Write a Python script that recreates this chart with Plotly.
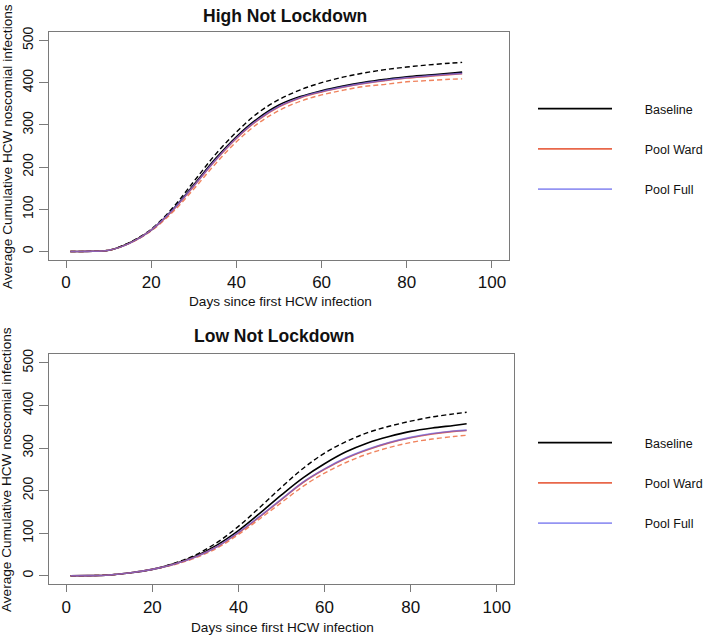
import plotly.graph_objects as go

days = [1, 5, 10, 15, 20, 25, 30, 35, 40, 45, 50, 55, 60, 65, 70, 75, 80, 85, 90, 93]

# High Not Lockdown
high_baseline = [0, 0.5, 3, 21, 51, 99, 158, 219, 272, 315, 347, 367, 381, 392, 401, 408, 414, 418, 422, 425]
high_baseline_dash = [0, 0.5, 3, 22, 53, 103, 166, 229, 283, 328, 360, 383, 400, 413, 423, 431, 437, 442, 446, 448]
high_pool_ward = [0, 0.5, 3, 20, 51, 97, 155, 215, 268, 311, 343, 364, 378, 389, 398, 405, 411, 415, 419, 421]
high_pool_full = [0, 0.5, 3, 20, 51, 98, 156, 216, 269, 312, 344, 365, 379, 390, 399, 406, 412, 416, 420, 422]
high_pool_ward_dash = [0, 0.5, 3, 20, 49, 93, 148, 207, 260, 303, 334, 356, 371, 382, 391, 396, 402, 405, 408, 409]

# Low Not Lockdown
low_baseline = [0, 0.3, 2, 7, 15, 28, 46, 72, 106, 147, 190, 230, 263, 291, 312, 327, 339, 347, 353, 357]
low_baseline_dash = [0, 0.3, 2, 7, 15, 29, 49, 78, 116, 161, 208, 252, 288, 315, 336, 351, 363, 373, 380, 384]
low_pool_ward = [0, 0.3, 2, 7, 15, 27, 44, 68, 101, 139, 179, 219, 250, 276, 296, 312, 324, 333, 339, 341]
low_pool_full = [0, 0.3, 2, 7, 15, 27, 44, 68, 102, 140, 180, 220, 251, 277, 297, 313, 325, 334, 340, 342]
low_pool_ward_dash = [0, 0.3, 2, 7, 15, 26, 42, 65, 97, 134, 172, 210, 241, 266, 286, 301, 313, 321, 327, 330]

series_names = ["Baseline", "Pool Ward", "Pool Full"]
x_ticks = [0, 20, 40, 60, 80, 100]
y_ticks = [0, 100, 200, 300, 400, 500]

FONT = "Liberation Sans, Arial, sans-serif"
BLACK = "#000000"
RED = "#E8674A"
RED_DASH = "#F0835E"
BLUE = "rgba(90,90,235,0.65)"
BOX = "#7a7a7a"
LEGEND_PAD = "\u00a0" * 8

W, H = 709, 637

fig = go.Figure()

panels = [
    ("x", "y", "legend", (high_baseline_dash, high_pool_ward_dash, high_baseline, high_pool_ward, high_pool_full)),
    ("x2", "y2", "legend2", (low_baseline_dash, low_pool_ward_dash, low_baseline, low_pool_ward, low_pool_full)),
]

for xa, ya, lg, (bdash, wdash, base, ward, full) in panels:
    fig.add_trace(go.Scatter(x=days, y=bdash, mode="lines", xaxis=xa, yaxis=ya, showlegend=False,
                             line=dict(color=BLACK, width=1.4, dash="5px,3px", shape="spline"), hoverinfo="skip"))
    fig.add_trace(go.Scatter(x=days, y=wdash, mode="lines", xaxis=xa, yaxis=ya, showlegend=False,
                             line=dict(color=RED_DASH, width=1.4, dash="5px,3px", shape="spline"), hoverinfo="skip"))
    fig.add_trace(go.Scatter(x=days, y=base, mode="lines", name=LEGEND_PAD + series_names[0], xaxis=xa, yaxis=ya,
                             legend=lg, legendgroup=lg + "b",
                             line=dict(color=BLACK, width=1.6, shape="spline")))
    fig.add_trace(go.Scatter(x=days, y=ward, mode="lines", name=LEGEND_PAD + series_names[1], xaxis=xa, yaxis=ya,
                             legend=lg, legendgroup=lg + "w",
                             line=dict(color=RED, width=1.6, shape="spline")))
    fig.add_trace(go.Scatter(x=days, y=full, mode="lines", name=LEGEND_PAD + series_names[2], xaxis=xa, yaxis=ya,
                             legend=lg, legendgroup=lg + "f",
                             line=dict(color=BLUE, width=1.6, shape="spline")))

def xaxis_cfg(domain, anchor):
    return dict(domain=domain, anchor=anchor, range=[-4, 104], tickvals=x_ticks,
                ticks="outside", ticklen=7, tickcolor=BOX, tickwidth=1,
                showline=True, linecolor=BOX, linewidth=1, mirror=True,
                showgrid=False, zeroline=False,
                tickfont=dict(family=FONT, size=17, color="#111"))

def yaxis_cfg(domain, anchor):
    return dict(domain=domain, anchor=anchor, range=[-20, 520], tickvals=y_ticks,
                ticks="outside", ticklen=9, tickcolor=BOX, tickwidth=1,
                showline=True, linecolor=BOX, linewidth=1, mirror=True,
                showgrid=False, zeroline=False, tickangle=-90,
                tickfont=dict(family=FONT, size=14, color="#111"))

def px_x(p):
    return p / W

def px_y(p):
    return 1 - p / H

legend_common = dict(font=dict(family=FONT, size=12.5, color="#111"), bgcolor="rgba(0,0,0,0)",
                     tracegroupgap=21, itemwidth=74, xanchor="left", yanchor="top",
                     itemclick=False, itemdoubleclick=False)

fig.update_layout(
    width=W, height=H,
    margin=dict(l=0, r=0, t=0, b=0, autoexpand=False),
    paper_bgcolor="white", plot_bgcolor="white",
    xaxis=xaxis_cfg([px_x(49), px_x(509)], "y"),
    yaxis=yaxis_cfg([px_y(260), px_y(32)], "x"),
    xaxis2=xaxis_cfg([px_x(49), px_x(514)], "y2"),
    yaxis2=yaxis_cfg([px_y(584.3), px_y(354.3)], "x2"),
    legend=dict(x=px_x(533), y=px_y(94), **legend_common),
    legend2=dict(x=px_x(533), y=px_y(428), **legend_common),
    showlegend=True,
)

annos = [
    dict(text="<b>High Not Lockdown</b>", x=px_x(285), y=px_y(16), size=17.5),
    dict(text="<b>Low Not Lockdown</b>", x=px_x(274), y=px_y(336), size=17.5),
    dict(text="Days since first HCW infection", x=px_x(280), y=px_y(301), size=13.6),
    dict(text="Days since first HCW infection", x=px_x(282), y=px_y(627), size=13.6),
]
for a in annos:
    fig.add_annotation(text=a["text"], x=a["x"], y=a["y"], xref="paper", yref="paper",
                       xanchor="center", yanchor="middle", showarrow=False,
                       font=dict(family=FONT, size=a["size"], color="#111"))
for yc in (147, 470):
    fig.add_annotation(text="Average Cumulative HCW noscomial infections", x=px_x(7), y=px_y(yc),
                       xref="paper", yref="paper", xanchor="center", yanchor="middle",
                       showarrow=False, textangle=-90,
                       font=dict(family=FONT, size=13.6, color="#111"))

fig.write_html(
    "out.html",
    config={"displayModeBar": False},
    post_script="document.body.style.margin='0';document.body.style.padding='0';"
                "document.documentElement.style.margin='0';document.body.style.overflow='hidden';",
)
